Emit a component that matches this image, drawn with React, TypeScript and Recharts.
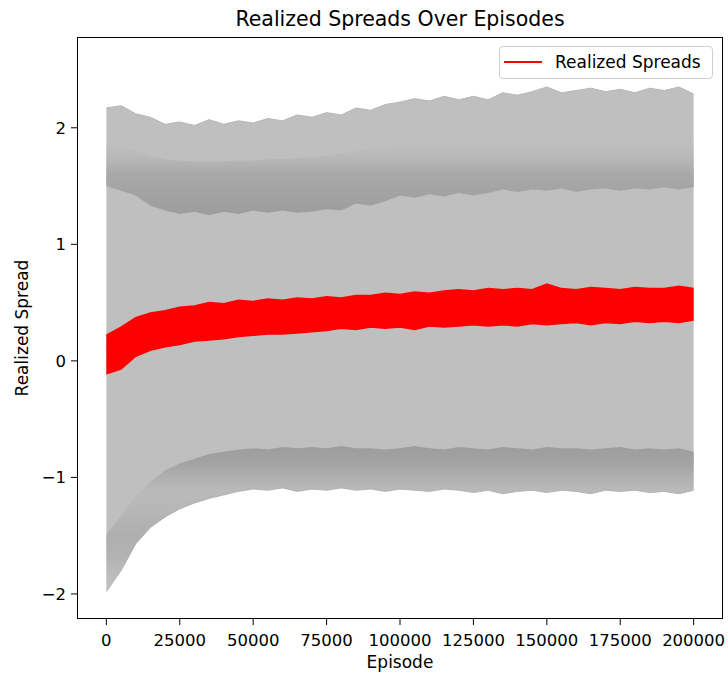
import { ComposedChart, Area, XAxis, YAxis } from "recharts";

// episode grid the band edges were read on
const episodes = [
  0, 5000, 10000, 15000, 20000, 25000, 30000, 35000, 40000, 45000,
  50000, 55000, 60000, 65000, 70000, 75000, 80000, 85000, 90000, 95000,
  100000, 105000, 110000, 115000, 120000, 125000, 130000, 135000, 140000, 145000,
  150000, 155000, 160000, 165000, 170000, 175000, 180000, 185000, 190000, 195000,
  200000,
];

// grey envelope, top edge of the upper band
const upperTop = [
  2.17, 2.19, 2.12, 2.09, 2.03, 2.05, 2.02, 2.07, 2.03, 2.06,
  2.04, 2.08, 2.06, 2.11, 2.09, 2.13, 2.11, 2.17, 2.15, 2.2,
  2.22, 2.25, 2.23, 2.27, 2.24, 2.27, 2.24, 2.3, 2.28, 2.31,
  2.35, 2.3, 2.32, 2.34, 2.31, 2.33, 2.3, 2.34, 2.32, 2.35,
  2.29,
];
// where the darker shading of the upper band begins
const upperShadeTop = [
  1.86, 1.85, 1.8, 1.76, 1.73, 1.72, 1.71, 1.71, 1.71, 1.72,
  1.72, 1.73, 1.73, 1.74, 1.75, 1.76, 1.78, 1.8, 1.82, 1.84,
  1.86, 1.87, 1.87, 1.88, 1.88, 1.89, 1.89, 1.9, 1.9, 1.9,
  1.91, 1.91, 1.91, 1.92, 1.92, 1.92, 1.92, 1.92, 1.92, 1.92,
  1.92,
];
// bottom edge of the upper band
const upperBottom = [
  1.5, 1.46, 1.42, 1.33, 1.29, 1.26, 1.28, 1.25, 1.28, 1.26,
  1.29, 1.27, 1.29, 1.27, 1.28, 1.3, 1.29, 1.35, 1.33, 1.37,
  1.42, 1.4, 1.43, 1.41, 1.44, 1.42, 1.44, 1.47, 1.45, 1.47,
  1.46, 1.48, 1.45, 1.47, 1.48, 1.46, 1.48, 1.47, 1.49, 1.47,
  1.49,
];

// lower band
const lowerTop = [
  -1.49, -1.33, -1.16, -1.04, -0.94, -0.88, -0.84, -0.8, -0.78, -0.76,
  -0.75, -0.76, -0.74, -0.75, -0.74, -0.75, -0.73, -0.75, -0.75, -0.76,
  -0.75, -0.73, -0.75, -0.76, -0.74, -0.75, -0.76, -0.74, -0.75, -0.76,
  -0.74, -0.75, -0.75, -0.76, -0.75, -0.74, -0.76, -0.75, -0.76, -0.75,
  -0.78,
];
const lowerBottom = [
  -1.98, -1.8, -1.57, -1.43, -1.34, -1.27, -1.22, -1.18, -1.15, -1.12,
  -1.1, -1.11, -1.09, -1.12, -1.1, -1.11, -1.09, -1.11, -1.1, -1.12,
  -1.1, -1.11, -1.12, -1.1, -1.11, -1.13, -1.11, -1.14, -1.12, -1.11,
  -1.13, -1.11, -1.12, -1.14, -1.11, -1.12, -1.11, -1.13, -1.12, -1.14,
  -1.11,
];

// realized spreads (red), upper and lower edge of the noisy line
const spreadTop = [
  0.22, 0.29, 0.37, 0.41, 0.43, 0.46, 0.47, 0.5, 0.49, 0.52,
  0.51, 0.53, 0.52, 0.54, 0.53, 0.55, 0.54, 0.56, 0.56, 0.58,
  0.57, 0.59, 0.58, 0.6, 0.61, 0.6, 0.62, 0.61, 0.62, 0.61,
  0.66, 0.62, 0.61, 0.63, 0.62, 0.61, 0.63, 0.62, 0.62, 0.64,
  0.62,
];
const spreadBottom = [
  -0.11, -0.07, 0.04, 0.09, 0.12, 0.14, 0.17, 0.18, 0.19, 0.21,
  0.22, 0.23, 0.23, 0.24, 0.25, 0.26, 0.28, 0.27, 0.29, 0.28,
  0.29, 0.27, 0.3, 0.29, 0.3, 0.31, 0.3, 0.31, 0.3, 0.32,
  0.31, 0.32, 0.33, 0.31, 0.33, 0.32, 0.34, 0.33, 0.34, 0.33,
  0.35,
];

const xTicks = [0, 25000, 50000, 75000, 100000, 125000, 150000, 175000, 200000];
const yTicks = [-2, -1, 0, 1, 2];

const data = episodes.map((ep, i) => ({
  ep,
  band: [lowerBottom[i], upperTop[i]],
  upperShade: [upperBottom[i], upperShadeTop[i]],
  lowerShade: [lowerBottom[i], lowerTop[i]],
  spread: [spreadBottom[i], spreadTop[i]],
}));

const font = "'DejaVu Sans', sans-serif";
const tickStyle = { fontFamily: font, fontSize: 16.5, fill: "#000" };

export default function App() {
  return (
    <div style={{ position: "absolute", left: 0, top: 0, width: 728, height: 677, background: "#fff", fontFamily: font }}>
      <div style={{ position: "absolute", left: 77, top: 7, width: 646, textAlign: "center", fontSize: 20.5, lineHeight: "24px", color: "#000", whiteSpace: "nowrap" }}>
        Realized Spreads Over Episodes
      </div>

      <ComposedChart width={728} height={677} data={data} margin={{ top: 37, right: 5, bottom: 0, left: 0 }}>
        <defs>
          <linearGradient id="upShade" x1="0" y1="0" x2="0" y2="1">
            <stop offset="0%" stopColor="#bfbfbf" stopOpacity={0} />
            <stop offset="45%" stopColor="#a9a9a9" stopOpacity={1} />
            <stop offset="100%" stopColor="#9d9d9d" stopOpacity={1} />
          </linearGradient>
          {/* lower band: dark near its top edge, plus a softer core in the early episodes */}
          <linearGradient id="lowShade" x1="0" y1="0" x2="0" y2="1">
            <stop offset="0%" stopColor="#9d9d9d" stopOpacity={1} />
            <stop offset="12%" stopColor="#a3a3a3" stopOpacity={1} />
            <stop offset="31%" stopColor="#a8a8a8" stopOpacity={0.2} />
            <stop offset="42%" stopColor="#a8a8a8" stopOpacity={0.35} />
            <stop offset="62%" stopColor="#a8a8a8" stopOpacity={0.7} />
            <stop offset="78%" stopColor="#a8a8a8" stopOpacity={0.5} />
            <stop offset="100%" stopColor="#bfbfbf" stopOpacity={0} />
          </linearGradient>
        </defs>
        <XAxis
          type="number"
          dataKey="ep"
          domain={[-10000, 210000]}
          ticks={xTicks}
          allowDataOverflow
          height={58}
          axisLine={false}
          tickLine={{ stroke: "#000" }}
          tickSize={6}
          tickMargin={9}
          tick={tickStyle}
          interval={0}
        />
        <YAxis
          type="number"
          domain={[-2.215, 2.779]}
          ticks={yTicks}
          allowDataOverflow
          width={77}
          axisLine={false}
          tickLine={{ stroke: "#000" }}
          tickSize={6}
          tickMargin={5}
          tick={tickStyle}
          interval={0}
          tickFormatter={(v: number) => (v < 0 ? "\u2212" + Math.abs(v) : String(v))}
        />
        <Area type="linear" dataKey="band" fill="#bfbfbf" fillOpacity={1} stroke="#b6b6b6" strokeWidth={1} isAnimationActive={false} />
        <Area type="linear" dataKey="upperShade" fill="url(#upShade)" fillOpacity={1} stroke="none" isAnimationActive={false} />
        <Area type="linear" dataKey="lowerShade" fill="url(#lowShade)" fillOpacity={1} stroke="none" isAnimationActive={false} />
        <Area type="linear" dataKey="spread" fill="#ff0000" fillOpacity={1} stroke="#ff0000" strokeWidth={1.5} isAnimationActive={false} />
      </ComposedChart>

      {/* axes frame */}
      <div style={{ position: "absolute", left: 77, top: 37, width: 646, height: 582, border: "1px solid #000", boxSizing: "border-box", pointerEvents: "none" }} />

      {/* legend */}
      <div style={{ position: "absolute", left: 499, top: 46, width: 214, height: 33, border: "1px solid #d0d0d0", borderRadius: 4, background: "rgba(255,255,255,0.8)", boxSizing: "border-box" }}>
        <div style={{ position: "absolute", left: 4, top: 14, width: 38, height: 2, background: "#ff0000" }} />
        <div style={{ position: "absolute", left: 55, top: 4, fontSize: 17, lineHeight: "22px", color: "#000", whiteSpace: "nowrap" }}>
          Realized Spreads
        </div>
      </div>

      <div style={{ position: "absolute", left: 77, top: 652, width: 646, textAlign: "center", fontSize: 17, lineHeight: "20px", color: "#000" }}>
        Episode
      </div>
      <div style={{ position: "absolute", left: 22, top: 328, transform: "translate(-50%, -50%) rotate(-90deg)", fontSize: 17, lineHeight: "20px", color: "#000", whiteSpace: "nowrap" }}>
        Realized Spread
      </div>
    </div>
  );
}
